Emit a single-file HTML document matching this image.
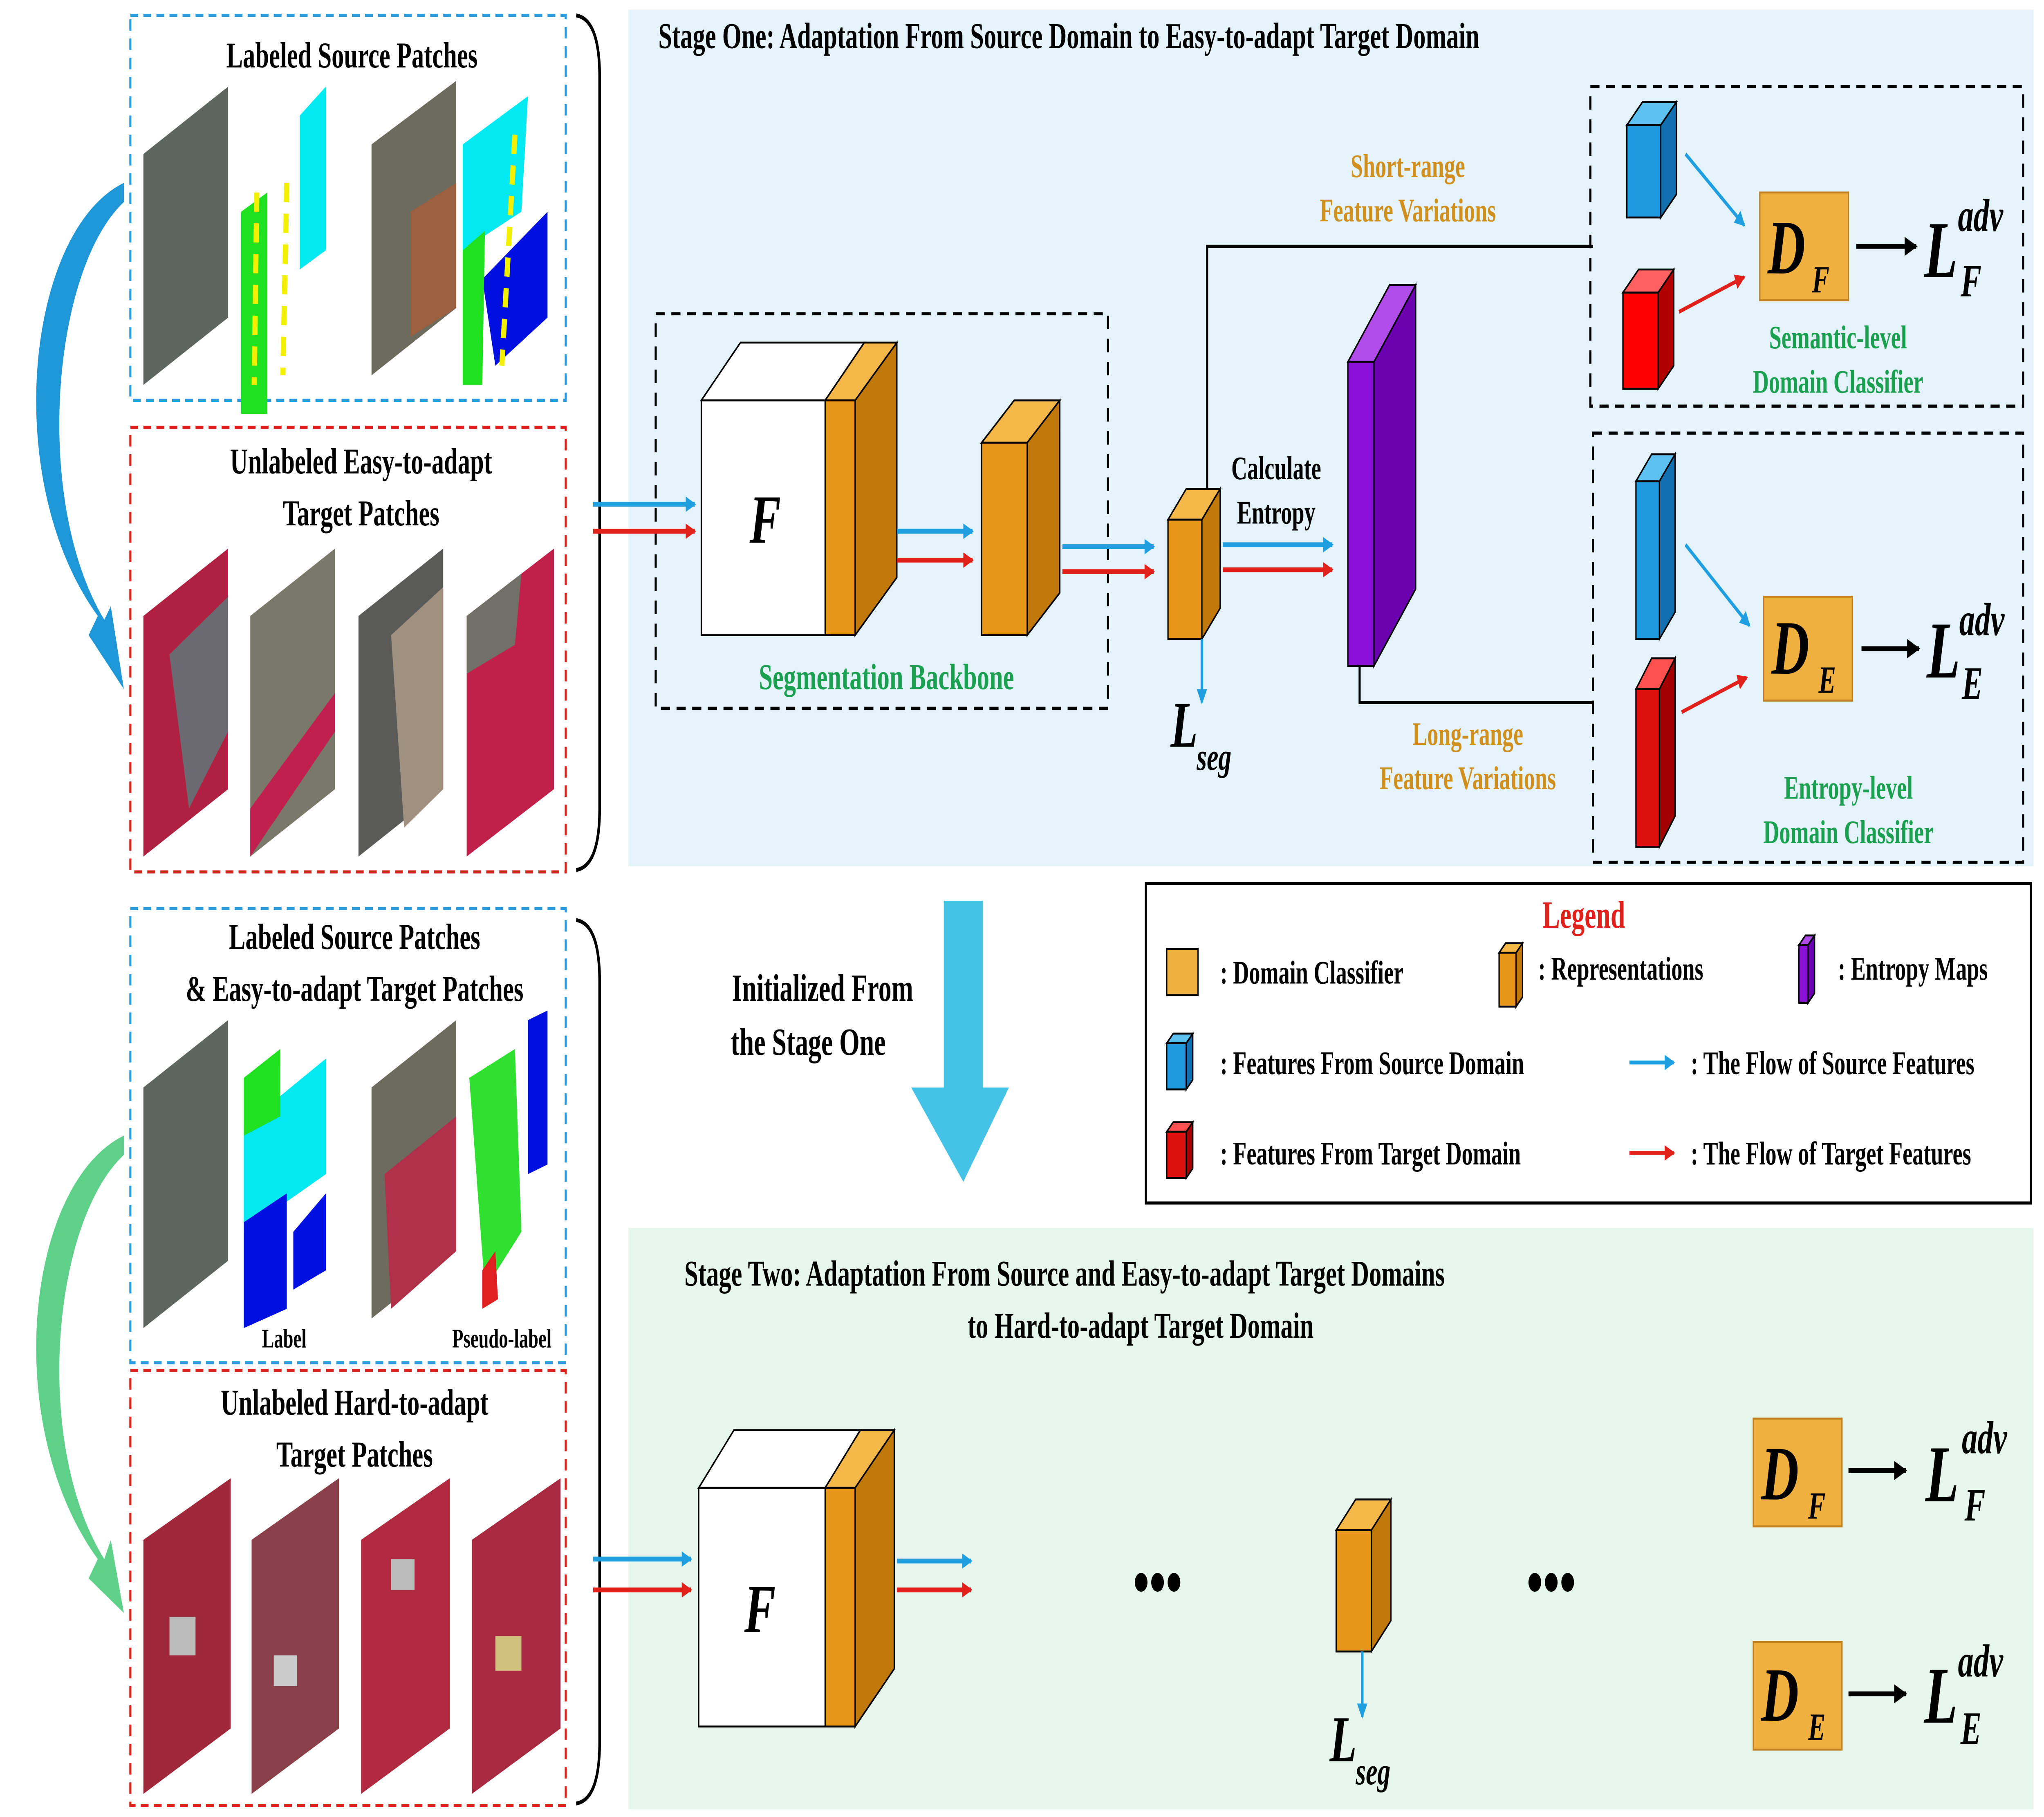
<!DOCTYPE html>
<html><head><meta charset="utf-8">
<style>
html,body{margin:0;padding:0;background:#fff;width:100%;height:100%;overflow:hidden;}
svg{display:block;width:100vw;height:100vh;}
text{font-family:"Liberation Serif",serif;font-weight:bold;}
</style></head>
<body>
<svg viewBox="0 0 1568 944" preserveAspectRatio="none" xmlns="http://www.w3.org/2000/svg">
<defs>
<marker id="ab" markerWidth="8" markerHeight="8" refX="7" refY="4" orient="auto" markerUnits="userSpaceOnUse"><path d="M0,0 L8,4 L0,8 z" fill="#1f9ee0"/></marker>
<marker id="ar" markerWidth="8" markerHeight="8" refX="7" refY="4" orient="auto" markerUnits="userSpaceOnUse"><path d="M0,0 L8,4 L0,8 z" fill="#e0201b"/></marker>
<marker id="ak" markerWidth="10" markerHeight="10" refX="9" refY="5" orient="auto" markerUnits="userSpaceOnUse"><path d="M0,0 L10,5 L0,10 z" fill="#000"/></marker>
</defs>

<rect x="482" y="5" width="1078" height="445" fill="#e4f2f9"/>
<rect x="482" y="638" width="1078" height="302" fill="#e6f6ec"/>

<rect x="100" y="8" width="334" height="200" fill="none" stroke="#2a9be0" stroke-width="1.6" stroke-dasharray="6,4"/>
<rect x="100" y="222" width="334" height="231" fill="none" stroke="#e0201b" stroke-width="1.6" stroke-dasharray="6,4"/>
<rect x="100" y="472" width="334" height="236" fill="none" stroke="#2a9be0" stroke-width="1.6" stroke-dasharray="6,4"/>
<rect x="100" y="712" width="334" height="226" fill="none" stroke="#e0201b" stroke-width="1.6" stroke-dasharray="6,4"/>
<path d="M442,8 Q460,10 460,40 L460,420 Q460,450 442,452" fill="none" stroke="#000" stroke-width="2"/>
<path d="M442,478 Q460,480 460,510 L460,905 Q460,935 442,937" fill="none" stroke="#000" stroke-width="2"/>

<text x="270" y="35" font-size="19" text-anchor="middle">Labeled Source Patches</text>
<text x="277" y="246" font-size="19" text-anchor="middle">Unlabeled Easy-to-adapt</text>
<text x="277" y="273" font-size="19" text-anchor="middle">Target Patches</text>
<text x="272" y="493" font-size="19" text-anchor="middle">Labeled Source Patches</text>
<text x="272" y="520" font-size="19" text-anchor="middle">&amp; Easy-to-adapt Target Patches</text>
<text x="218" y="700" font-size="14" text-anchor="middle">Label</text>
<text x="385" y="700" font-size="14" text-anchor="middle">Pseudo-label</text>
<text x="272" y="735" font-size="19" text-anchor="middle">Unlabeled Hard-to-adapt</text>
<text x="272" y="762" font-size="19" text-anchor="middle">Target Patches</text>

<polygon points="110,80 175,45 175,165 110,200" fill="#5f6660"/>
<polygon points="185,75 250,40 250,180 185,215" fill="#fff"/>
<polygon points="230,60 250,45 250,130 230,140" fill="#00e8f0"/>
<polygon points="185,110 205,100 205,215 185,215" fill="#20e020"/>
<line x1="197" y1="100" x2="195" y2="200" stroke="#f0f000" stroke-width="4" stroke-dasharray="10,6"/>
<line x1="220" y1="95" x2="217" y2="195" stroke="#f0f000" stroke-width="4" stroke-dasharray="10,6"/>
<polygon points="285,75 350,42 350,160 285,195" fill="#6d6a5e"/>
<polygon points="315,110 350,95 350,160 315,175" fill="#9a6040"/>
<polygon points="355,75 420,40 420,165 355,200" fill="#fff"/>
<polygon points="355,75 405,50 400,110 355,130" fill="#00e8f0"/>
<polygon points="370,145 420,110 420,165 380,190" fill="#0010e0"/>
<polygon points="355,130 372,120 370,200 355,200" fill="#20e020"/>
<line x1="395" y1="70" x2="385" y2="190" stroke="#f0f000" stroke-width="4" stroke-dasharray="10,6"/>

<polygon points="110,320 175,285 175,410 110,445" fill="#b02040"/>
<polygon points="130,340 175,310 175,380 145,420" fill="#6a6a70"/>
<polygon points="192,320 257,285 257,410 192,445" fill="#7a7868"/>
<polygon points="192,420 257,360 257,380 192,445" fill="#c02050"/>
<polygon points="275,320 340,285 340,410 275,445" fill="#5a5a58"/>
<polygon points="300,330 340,305 340,410 310,430" fill="#a09080"/>
<polygon points="358,320 425,285 425,410 358,445" fill="#c0204a"/>
<polygon points="358,320 400,298 395,335 358,350" fill="#707068"/>

<polygon points="110,565 175,530 175,655 110,690" fill="#5f6660"/>
<polygon points="187,565 250,530 250,660 187,690" fill="#fff"/>
<polygon points="187,585 250,550 250,610 187,640" fill="#00e8f0"/>
<polygon points="187,635 220,620 220,680 187,690" fill="#0010e0"/>
<polygon points="225,640 250,620 250,660 225,670" fill="#0010e0"/>
<polygon points="187,560 215,545 215,580 187,590" fill="#20e020"/>
<polygon points="285,565 350,530 350,650 285,685" fill="#6d6a5e"/>
<polygon points="295,610 350,580 350,650 300,680" fill="#b03048"/>
<polygon points="357,570 420,525 420,655 360,680" fill="#fff"/>
<polygon points="360,560 395,545 400,640 372,670" fill="#30e030"/>
<polygon points="405,530 420,525 420,605 405,610" fill="#0010e0"/>
<polygon points="370,660 380,650 382,675 370,680" fill="#e02020"/>

<polygon points="110,800 177,768 177,898 110,932" fill="#a0283a"/>
<polygon points="193,800 260,768 260,898 193,932" fill="#8a4048"/>
<polygon points="277,800 345,768 345,898 277,932" fill="#b02a40"/>
<polygon points="362,800 430,768 430,898 362,932" fill="#a82a40"/>
<rect x="130" y="840" width="20" height="20" fill="#bbb"/>
<rect x="210" y="860" width="18" height="16" fill="#ccc"/>
<rect x="300" y="810" width="18" height="16" fill="#bbb"/>
<rect x="380" y="850" width="20" height="18" fill="#d0c080"/>

<path d="M95,95 C20,120 0,250 75,320 L68,330 L95,358 L85,315 L80,322 C25,260 40,140 95,105 Z" fill="#1f96d6"/>
<path d="M95,590 C20,615 0,740 75,810 L68,820 L95,838 L85,800 L80,810 C25,750 40,635 95,600 Z" fill="#5fd08a"/>

<text x="505" y="25" font-size="19">Stage One: Adaptation From Source Domain to Easy-to-adapt Target Domain</text>
<rect x="503" y="163" width="347" height="205" fill="none" stroke="#000" stroke-width="1.6" stroke-dasharray="7,5"/>
<text x="680" y="358" font-size="19" fill="#1aa050" text-anchor="middle">Segmentation Backbone</text>

<line x1="455" y1="262" x2="533" y2="262" stroke="#1f9ee0" stroke-width="2.5" marker-end="url(#ab)"/>
<line x1="455" y1="276" x2="533" y2="276" stroke="#e0201b" stroke-width="2.5" marker-end="url(#ar)"/>

<polygon points="538,208 568,178 663,178 633,208" fill="#fff" stroke="#000"/>
<rect x="538" y="208" width="95" height="122" fill="#fff" stroke="#000"/>
<text x="587" y="282" font-size="36" font-style="italic" font-weight="normal" text-anchor="middle">F</text>
<polygon points="633,208 663,178 688,178 656,208" fill="#f5b64a" stroke="#000"/>
<rect x="633" y="208" width="23" height="122" fill="#e8961a" stroke="#000"/>
<polygon points="656,208 688,178 688,300 656,330" fill="#c07808" stroke="#000"/>

<line x1="688" y1="276" x2="746" y2="276" stroke="#1f9ee0" stroke-width="2.5" marker-end="url(#ab)"/>
<line x1="688" y1="291" x2="746" y2="291" stroke="#e0201b" stroke-width="2.5" marker-end="url(#ar)"/>

<polygon points="753,230 778,208 813,208 788,230" fill="#f5b64a" stroke="#000"/>
<rect x="753" y="230" width="35" height="100" fill="#e8961a" stroke="#000"/>
<polygon points="788,230 813,208 813,308 788,330" fill="#c07808" stroke="#000"/>

<line x1="815" y1="284" x2="885" y2="284" stroke="#1f9ee0" stroke-width="2.5" marker-end="url(#ab)"/>
<line x1="815" y1="297" x2="885" y2="297" stroke="#e0201b" stroke-width="2.5" marker-end="url(#ar)"/>

<polygon points="896,270 910,254 936,254 922,270" fill="#f5b64a" stroke="#000"/>
<rect x="896" y="270" width="26" height="62" fill="#e8961a" stroke="#000"/>
<polygon points="922,270 936,254 936,316 922,332" fill="#c07808" stroke="#000"/>
<line x1="922" y1="332" x2="922" y2="365" stroke="#1f9ee0" stroke-width="2" marker-end="url(#ab)"/>
<text x="898" y="388" font-size="34" font-style="italic" font-weight="normal">L</text>
<text x="918" y="400" font-size="20" font-style="italic" font-weight="normal">seg</text>

<text x="979" y="249" font-size="17" text-anchor="middle">Calculate</text>
<text x="979" y="272" font-size="17" text-anchor="middle">Entropy</text>
<line x1="938" y1="283" x2="1022" y2="283" stroke="#1f9ee0" stroke-width="2.5" marker-end="url(#ab)"/>
<line x1="938" y1="296" x2="1022" y2="296" stroke="#e0201b" stroke-width="2.5" marker-end="url(#ar)"/>

<polygon points="1034,188 1066,148 1086,148 1054,188" fill="#b04de8" stroke="#000"/>
<rect x="1034" y="188" width="20" height="158" fill="#8a10d8" stroke="#000"/>
<polygon points="1054,188 1086,148 1086,306 1054,346" fill="#6a00b0" stroke="#000"/>

<polyline points="926,254 926,128 1222,128" fill="none" stroke="#000" stroke-width="1.6"/>
<polyline points="1043,346 1043,365 1222,365" fill="none" stroke="#000" stroke-width="1.6"/>
<text x="1080" y="92" font-size="17" fill="#d09020" text-anchor="middle">Short-range</text>
<text x="1080" y="115" font-size="17" fill="#d09020" text-anchor="middle">Feature Variations</text>
<text x="1126" y="387" font-size="17" fill="#d09020" text-anchor="middle">Long-range</text>
<text x="1126" y="410" font-size="17" fill="#d09020" text-anchor="middle">Feature Variations</text>

<rect x="1220" y="45" width="332" height="166" fill="none" stroke="#000" stroke-width="1.6" stroke-dasharray="7,5"/>
<polygon points="1248,65 1260,53 1286,53 1274,65" fill="#5cc0f0" stroke="#000"/>
<rect x="1248" y="65" width="26" height="48" fill="#1e9be0" stroke="#000"/>
<polygon points="1274,65 1286,53 1286,101 1274,113" fill="#1070b0" stroke="#000"/>
<polygon points="1245,152 1257,140 1284,140 1272,152" fill="#ff6060" stroke="#000"/>
<rect x="1245" y="152" width="27" height="50" fill="#ff0000" stroke="#000"/>
<polygon points="1272,152 1284,140 1284,190 1272,202" fill="#b00000" stroke="#000"/>
<line x1="1293" y1="80" x2="1338" y2="117" stroke="#1f9ee0" stroke-width="2" marker-end="url(#ab)"/>
<line x1="1288" y1="162" x2="1338" y2="144" stroke="#e0201b" stroke-width="2" marker-end="url(#ar)"/>
<rect x="1350" y="100" width="68" height="56" fill="#f0b040" stroke="#c08020"/>
<text x="1356" y="142" font-size="40" font-style="italic" font-weight="normal">D</text>
<text x="1390" y="152" font-size="20" font-style="italic" font-weight="normal">F</text>
<line x1="1424" y1="128" x2="1470" y2="128" stroke="#000" stroke-width="2.5" marker-end="url(#ak)"/>
<text x="1476" y="144" font-size="42" font-style="italic" font-weight="normal">L</text>
<text x="1502" y="120" font-size="24" font-style="italic" font-weight="normal">adv</text>
<text x="1504" y="154" font-size="24" font-style="italic" font-weight="normal">F</text>
<text x="1410" y="181" font-size="17" fill="#1aa050" text-anchor="middle">Semantic-level</text>
<text x="1410" y="204" font-size="17" fill="#1aa050" text-anchor="middle">Domain Classifier</text>

<rect x="1222" y="225" width="330" height="223" fill="none" stroke="#000" stroke-width="1.6" stroke-dasharray="7,5"/>
<polygon points="1255,250 1267,236 1285,236 1273,250" fill="#5cc0f0" stroke="#000"/>
<rect x="1255" y="250" width="18" height="82" fill="#1e9be0" stroke="#000"/>
<polygon points="1273,250 1285,236 1285,318 1273,332" fill="#1070b0" stroke="#000"/>
<polygon points="1255,358 1267,342 1285,342 1273,358" fill="#ff5050" stroke="#000"/>
<rect x="1255" y="358" width="18" height="82" fill="#e01010" stroke="#000"/>
<polygon points="1273,358 1285,342 1285,424 1273,440" fill="#a00000" stroke="#000"/>
<line x1="1293" y1="283" x2="1342" y2="325" stroke="#1f9ee0" stroke-width="2" marker-end="url(#ab)"/>
<line x1="1290" y1="370" x2="1340" y2="352" stroke="#e0201b" stroke-width="2" marker-end="url(#ar)"/>
<rect x="1353" y="310" width="68" height="54" fill="#f0b040" stroke="#c08020"/>
<text x="1359" y="350" font-size="40" font-style="italic" font-weight="normal">D</text>
<text x="1395" y="360" font-size="20" font-style="italic" font-weight="normal">E</text>
<line x1="1428" y1="337" x2="1472" y2="337" stroke="#000" stroke-width="2.5" marker-end="url(#ak)"/>
<text x="1478" y="352" font-size="42" font-style="italic" font-weight="normal">L</text>
<text x="1503" y="330" font-size="24" font-style="italic" font-weight="normal">adv</text>
<text x="1505" y="363" font-size="24" font-style="italic" font-weight="normal">E</text>
<text x="1418" y="415" font-size="17" fill="#1aa050" text-anchor="middle">Entropy-level</text>
<text x="1418" y="438" font-size="17" fill="#1aa050" text-anchor="middle">Domain Classifier</text>

<polygon points="724,468 754,468 754,565 774,565 739,614 699,565 724,565" fill="#45c2e6"/>
<text x="631" y="520" font-size="20" text-anchor="middle">Initialized From</text>
<text x="620" y="548" font-size="20" text-anchor="middle">the Stage One</text>

<rect x="879" y="459" width="679" height="166" fill="#fff" stroke="#000" stroke-width="1.6"/>
<text x="1215" y="482" font-size="20" fill="#e0201b" text-anchor="middle">Legend</text>
<rect x="895" y="493" width="24" height="24" fill="#f0b040" stroke="#000"/>
<text x="936" y="511" font-size="17">: Domain Classifier</text>
<polygon points="1150,495 1155,490 1168,490 1163,495" fill="#f5b64a" stroke="#000"/>
<rect x="1150" y="495" width="13" height="28" fill="#e8961a" stroke="#000"/>
<polygon points="1163,495 1168,490 1168,518 1163,523" fill="#c07808" stroke="#000"/>
<text x="1180" y="509" font-size="17">:  Representations</text>
<polygon points="1380,491 1385,486 1392,486 1387,491" fill="#b04de8" stroke="#000"/>
<rect x="1380" y="491" width="7" height="30" fill="#8a10d8" stroke="#000"/>
<polygon points="1387,491 1392,486 1392,516 1387,521" fill="#6a00b0" stroke="#000"/>
<text x="1410" y="509" font-size="17">:  Entropy Maps</text>
<polygon points="895,542 900,537 915,537 910,542" fill="#5cc0f0" stroke="#000"/>
<rect x="895" y="542" width="15" height="24" fill="#1e9be0" stroke="#000"/>
<polygon points="910,542 915,537 915,561 910,566" fill="#1070b0" stroke="#000"/>
<text x="936" y="558" font-size="17">: Features From Source Domain</text>
<line x1="1250" y1="552" x2="1284" y2="552" stroke="#1f9ee0" stroke-width="2" marker-end="url(#ab)"/>
<text x="1297" y="558" font-size="17">: The Flow of Source Features</text>
<polygon points="895,588 900,583 915,583 910,588" fill="#ff5050" stroke="#000"/>
<rect x="895" y="588" width="15" height="24" fill="#e01010" stroke="#000"/>
<polygon points="910,588 915,583 915,607 910,612" fill="#a00000" stroke="#000"/>
<text x="936" y="605" font-size="17">: Features From Target Domain</text>
<line x1="1250" y1="599" x2="1284" y2="599" stroke="#e0201b" stroke-width="2" marker-end="url(#ar)"/>
<text x="1297" y="605" font-size="17">: The Flow of Target Features</text>

<text x="525" y="668" font-size="19">Stage Two: Adaptation From Source and Easy-to-adapt Target Domains</text>
<text x="875" y="695" font-size="19" text-anchor="middle">to Hard-to-adapt Target Domain</text>
<line x1="455" y1="810" x2="530" y2="810" stroke="#1f9ee0" stroke-width="2.5" marker-end="url(#ab)"/>
<line x1="455" y1="826" x2="530" y2="826" stroke="#e0201b" stroke-width="2.5" marker-end="url(#ar)"/>
<polygon points="536,773 563,743 660,743 633,773" fill="#fff" stroke="#000"/>
<rect x="536" y="773" width="97" height="124" fill="#fff" stroke="#000"/>
<text x="583" y="848" font-size="36" font-style="italic" font-weight="normal" text-anchor="middle">F</text>
<polygon points="633,773 660,743 686,743 656,773" fill="#f5b64a" stroke="#000"/>
<rect x="633" y="773" width="23" height="124" fill="#e8961a" stroke="#000"/>
<polygon points="656,773 686,743 686,867 656,897" fill="#c07808" stroke="#000"/>
<line x1="688" y1="811" x2="745" y2="811" stroke="#1f9ee0" stroke-width="2.5" marker-end="url(#ab)"/>
<line x1="688" y1="826" x2="745" y2="826" stroke="#e0201b" stroke-width="2.5" marker-end="url(#ar)"/>
<text x="888" y="834" font-size="36" text-anchor="middle">•••</text>
<text x="1190" y="834" font-size="36" text-anchor="middle">•••</text>
<polygon points="1025,795 1040,779 1067,779 1052,795" fill="#f5b64a" stroke="#000"/>
<rect x="1025" y="795" width="27" height="63" fill="#e8961a" stroke="#000"/>
<polygon points="1052,795 1067,779 1067,842 1052,858" fill="#c07808" stroke="#000"/>
<line x1="1045" y1="858" x2="1045" y2="892" stroke="#1f9ee0" stroke-width="2" marker-end="url(#ab)"/>
<text x="1020" y="915" font-size="34" font-style="italic" font-weight="normal">L</text>
<text x="1040" y="927" font-size="20" font-style="italic" font-weight="normal">seg</text>

<rect x="1345" y="737" width="68" height="56" fill="#f0b040" stroke="#c08020"/>
<text x="1351" y="779" font-size="40" font-style="italic" font-weight="normal">D</text>
<text x="1387" y="789" font-size="20" font-style="italic" font-weight="normal">F</text>
<line x1="1418" y1="764" x2="1462" y2="764" stroke="#000" stroke-width="2.5" marker-end="url(#ak)"/>
<text x="1477" y="780" font-size="42" font-style="italic" font-weight="normal">L</text>
<text x="1505" y="755" font-size="24" font-style="italic" font-weight="normal">adv</text>
<text x="1507" y="790" font-size="24" font-style="italic" font-weight="normal">F</text>
<rect x="1345" y="853" width="68" height="56" fill="#f0b040" stroke="#c08020"/>
<text x="1351" y="894" font-size="40" font-style="italic" font-weight="normal">D</text>
<text x="1387" y="904" font-size="20" font-style="italic" font-weight="normal">E</text>
<line x1="1418" y1="880" x2="1462" y2="880" stroke="#000" stroke-width="2.5" marker-end="url(#ak)"/>
<text x="1476" y="895" font-size="42" font-style="italic" font-weight="normal">L</text>
<text x="1502" y="871" font-size="24" font-style="italic" font-weight="normal">adv</text>
<text x="1504" y="906" font-size="24" font-style="italic" font-weight="normal">E</text>
</svg>
</body></html>
